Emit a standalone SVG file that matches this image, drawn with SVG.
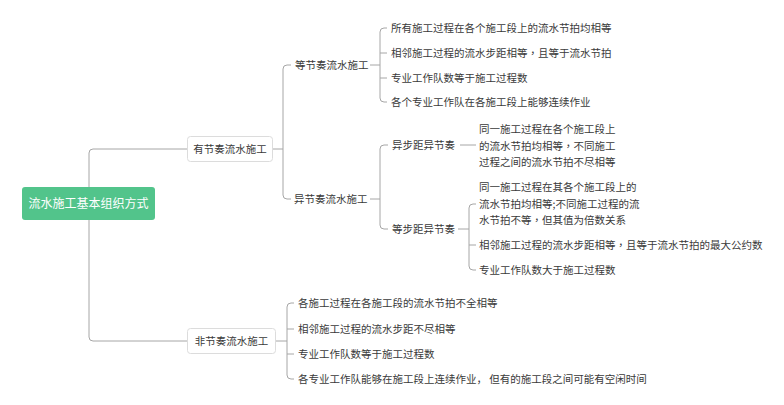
<svg xmlns="http://www.w3.org/2000/svg" width="784" height="405" viewBox="0 0 784 405">
<style>
text{font-family:"Noto Sans CJK SC","Noto Sans",sans-serif;font-size:10.5px;fill:#3a3a3a}
.root text{font-size:12px;fill:#ffffff}
.box rect{fill:#ffffff;stroke:#dcdcdc;stroke-width:1}
.ln{fill:none;stroke:#a6a6a6;stroke-width:1}
.cm{font-family:"Noto Sans CJK TC","Noto Sans CJK SC",sans-serif}
</style>
<rect width="784" height="405" fill="#ffffff"/>
<g id="connectors">
<path class="ln" d="M89,187 V153 Q89,149 93,149 H187"/>
<path class="ln" d="M89,220 V337 Q89,341 93,341 H187"/>
<path class="ln" d="M272,149 H283"/>
<path class="ln" d="M291,65 H287 Q283,65 283,69 V195 Q283,199 287,199 H291"/>
<path class="ln" d="M370,65 H380"/>
<path class="ln" d="M387,28 H384 Q380,28 380,32 V98 Q380,102 384,102 H387 M380,53 H387 M380,78 H387"/>
<path class="ln" d="M370,199 H380"/>
<path class="ln" d="M388,145 H384 Q380,145 380,149 V225 Q380,229 384,229 H388"/>
<path class="ln" d="M460,145 H476"/>
<path class="ln" d="M458,229 H469"/>
<path class="ln" d="M476,204 H473 Q469,204 469,208 V266 Q469,270 473,270 H476 M469,245 H476"/>
<path class="ln" d="M276,341 H287"/>
<path class="ln" d="M294,303 H291 Q287,303 287,307 V375 Q287,379 291,379 H294 M287,329 H294 M287,354 H294"/>
</g>
<g id="root" class="root">
<rect x="22" y="187" width="133" height="33" rx="3" fill="#52c48b"/>
<text x="88.5" y="208" text-anchor="middle">流水施工基本组织方式</text>
</g>
<g id="n-youjiezou" class="box">
<rect x="187.5" y="136.5" width="85" height="25" rx="3"/>
<text x="230" y="153" text-anchor="middle">有节奏流水施工</text>
</g>
<g id="n-feijiezou" class="box">
<rect x="187.5" y="328.5" width="88" height="25" rx="3"/>
<text x="231.5" y="345" text-anchor="middle">非节奏流水施工</text>
</g>
<g id="n-dengjiezou"><text x="295" y="69">等节奏流水施工</text></g>
<g id="n-dj1"><text x="391" y="32">所有施工过程在各个施工段上的流水节拍均相等</text></g>
<g id="n-dj2"><text x="391" y="57">相邻施工过程的流水步距相等<tspan class="cm">，</tspan>且等于流水节拍</text></g>
<g id="n-dj3"><text x="391" y="82">专业工作队数等于施工过程数</text></g>
<g id="n-dj4"><text x="391" y="106">各个专业工作队在各施工段上能够连续作业</text></g>
<g id="n-yijiezou"><text x="294" y="203">异节奏流水施工</text></g>
<g id="n-yibuju"><text x="392" y="149">异步距异节奏</text></g>
<g id="n-yb1"><text x="479" y="133">同一施工过程在各个施工段上</text><text x="479" y="149.5">的流水节拍均相等<tspan class="cm">，</tspan>不同施工</text><text x="479" y="166">过程之间的流水节拍不尽相等</text></g>
<g id="n-dengbuju"><text x="392" y="233">等步距异节奏</text></g>
<g id="n-db1"><text x="479" y="191">同一施工过程在其各个施工段上的</text><text x="479" y="208">流水节拍均相等;不同施工过程的流</text><text x="479" y="224">水节拍不等<tspan class="cm">，</tspan>但其值为倍数关系</text></g>
<g id="n-db2"><text x="479" y="249">相邻施工过程的流水步距相等<tspan class="cm">，</tspan>且等于流水节拍的最大公约数</text></g>
<g id="n-db3"><text x="479" y="274">专业工作队数大于施工过程数</text></g>
<g id="n-fj1"><text x="298" y="307">各施工过程在各施工段的流水节拍不全相等</text></g>
<g id="n-fj2"><text x="298" y="333">相邻施工过程的流水步距不尽相等</text></g>
<g id="n-fj3"><text x="298" y="358">专业工作队数等于施工过程数</text></g>
<g id="n-fj4"><text x="298" y="383">各专业工作队能够在施工段上连续作业， 但有的施工段之间可能有空闲时间</text></g>
</svg>
